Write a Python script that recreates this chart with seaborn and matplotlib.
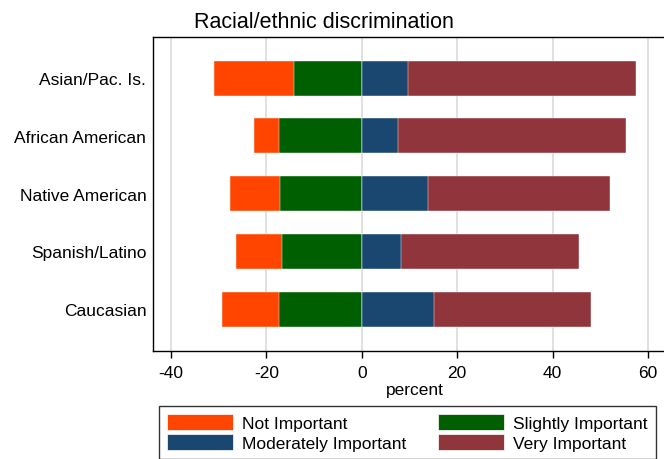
import matplotlib
matplotlib.use("Agg")
import matplotlib.pyplot as plt
import numpy as np
import pandas as pd
import seaborn as sns
from matplotlib.patches import Patch

groups = ["Asian/Pac. Is.", "African American", "Native American", "Spanish/Latino", "Caucasian"]
not_important = [16.8, 5.2, 10.5, 9.7, 12.1]
slightly_important = [14.2, 17.3, 17.1, 16.7, 17.3]
moderately_important = [9.6, 7.5, 13.8, 8.2, 15.2]
very_important = [47.8, 47.8, 38.3, 37.4, 32.9]

COLORS = {
    "Not Important": "#FF4500",
    "Slightly Important": "#005F00",
    "Moderately Important": "#1A476F",
    "Very Important": "#90353B",
}

sns.set_theme(style="white")
plt.rcParams["font.family"] = ["Liberation Sans", "DejaVu Sans"]
plt.rcParams.update({
    "text.color": "black",
    "axes.labelcolor": "black",
    "xtick.color": "black",
    "ytick.color": "black",
})

df = pd.DataFrame({
    "group": groups,
    "ni": not_important,
    "si": slightly_important,
    "mi": moderately_important,
    "vi": very_important,
})
# stacked diverging bars: draw the long (cumulative) bar first, then the inner one over it
df["neg_outer"] = -(df["ni"] + df["si"])
df["neg_inner"] = -df["si"]
df["pos_outer"] = df["mi"] + df["vi"]
df["pos_inner"] = df["mi"]

fig = plt.figure(figsize=(6.64, 4.6), dpi=100)
ax = fig.add_axes([0.2309, 0.2354, 0.788, 0.683])

layers = [
    ("neg_outer", "Not Important"),
    ("neg_inner", "Slightly Important"),
    ("pos_outer", "Very Important"),
    ("pos_inner", "Moderately Important"),
]
for col, name in layers:
    sns.barplot(data=df, x=col, y="group", orient="h", color=COLORS[name],
                width=0.61, saturation=1, edgecolor="white", linewidth=0.3, ax=ax, zorder=3)

ax.set_xlim(-43.7, 66)
ax.set_ylim(4.72, -0.72)
ax.set_xticks([-40, -20, 0, 20, 40, 60])
ax.set_xticklabels(["-40", "-20", "0", "20", "40", "60"])
ax.grid(True, axis="x", color="#DDDDDD", linewidth=1.3, zorder=0)
ax.set_axisbelow(True)
ax.set_xlabel("percent", fontsize=12.5, labelpad=1.5)
ax.set_ylabel("")
ax.tick_params(axis="x", bottom=True, length=5, width=1, color="black", labelsize=12.5, pad=5)
ax.tick_params(axis="y", left=False, length=0, labelsize=12.5, pad=5)
for side in ["left", "bottom", "top", "right"]:
    ax.spines[side].set_color("black")
    ax.spines[side].set_linewidth(1)

fig.text(324 / 664, 1 - 22 / 460, "Racial/ethnic discrimination", ha="center", va="center",
         fontsize=15.5)

order = ["Not Important", "Moderately Important", "Slightly Important", "Very Important"]
handles = [Patch(facecolor=COLORS[n], edgecolor="white", linewidth=0.5) for n in order]
leg = fig.legend(handles, order, ncol=2, loc="upper left",
                 bbox_to_anchor=(159 / 664, 1 - 407 / 460), bbox_transform=fig.transFigure,
                 fontsize=12.5, frameon=True, fancybox=False, edgecolor="black",
                 handlelength=3.8, handleheight=1.05, handletextpad=0.55,
                 columnspacing=1.8, labelspacing=0.2, borderpad=0.45, borderaxespad=0)
leg.get_frame().set_linewidth(1)

fig.savefig("out.png", dpi=100)
